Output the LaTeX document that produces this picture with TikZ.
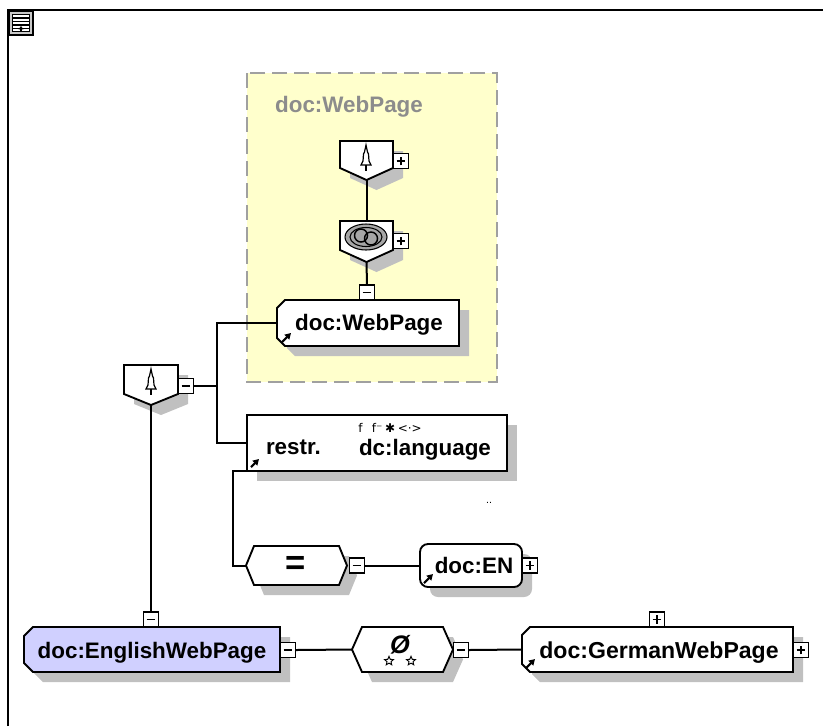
\documentclass[tikz,border=0pt]{standalone}
\usepackage{fontspec}
\setmainfont{Liberation Sans}
\newfontfamily\dejavu{DejaVu Sans}
\usetikzlibrary{fit,calc,arrows.meta,shapes.geometric}
\definecolor{yel}{RGB}{255,255,204}
\definecolor{dashgray}{RGB}{160,160,160}
\definecolor{shd}{RGB}{192,192,192}
\definecolor{lav}{RGB}{208,208,255}
\definecolor{lblgray}{RGB}{140,140,140}
\definecolor{icongray}{RGB}{200,200,200}
\pgfdeclarelayer{back}\pgfdeclarelayer{shapes}\pgfsetlayers{back,shapes,main}
\newcommand\CutPath[3]{([shift={(#3+#2,#3)}]#1.north west) -- ([shift={(#3,#3)}]#1.north east) -- ([shift={(#3,#3)}]#1.south east) -- ([shift={(#3+#2,#3)}]#1.south west) -- ([shift={(#3,#3-#2)}]#1.south west) -- ([shift={(#3,#3+#2)}]#1.north west) -- cycle}
\newcommand\HexPath[3]{([shift={(#3,#3)}]#1.west) -- ([shift={(#3+#2,#3)}]#1.north west) -- ([shift={(#3-#2,#3)}]#1.north east) -- ([shift={(#3,#3)}]#1.east) -- ([shift={(#3-#2,#3)}]#1.south east) -- ([shift={(#3+#2,#3)}]#1.south west) -- cycle}
\newcommand\PentPath[3]{([shift={(#3,#3)}]#1.north west) -- ([shift={(#3,#3)}]#1.north east) -- ([shift={(#3,#3-#2)}]#1.south east) -- ([shift={(#3,#3)}]#1.south) -- ([shift={(#3,#3-#2)}]#1.south west) -- cycle}
\tikzset{
 txt/.style={font=\bfseries\fontsize{16.8}{18}\selectfont, inner sep=0, outer sep=0},
 region/.style={inner sep=0, outer sep=0},
 outl/.style={draw=black, line width=1.4pt, line join=miter},
 conn/.style={draw=black, line width=1.5pt},
 pmbase/.style={draw=black, fill=white, line width=1.1pt, minimum size=11.25pt, inner sep=0, outer sep=0},
 minusbox/.style={pmbase, path picture={\draw[line width=1.1pt] ([xshift=2.4pt]path picture bounding box.west) -- ([xshift=-2.4pt]path picture bounding box.east);}},
 plusbox/.style={pmbase, path picture={\draw[line width=1.1pt] ([xshift=2.4pt]path picture bounding box.west) -- ([xshift=-2.4pt]path picture bounding box.east); \draw[line width=1.1pt] ([yshift=2.4pt]path picture bounding box.south) -- ([yshift=-2.4pt]path picture bounding box.north);}},
 linkarrow/.style={line width=1.6pt, -{Triangle[length=4.5pt,width=5pt]}},
 tree/.pic={\draw[line width=0.9pt, fill=white, line join=miter] (0,0) -- (-1.5,7) -- (-2.5,9) -- (-3,16) -- (-5,20) -- (5,20) -- (3,16) -- (2.5,9) -- (1.5,7) -- cycle; \draw[line width=1pt] (0,20) -- (0,26);},
 allsym/.pic={\draw[line width=0.8pt, fill=black!35] (0,0) ellipse [x radius=21, y radius=13]; \draw[line width=0.8pt] (0,0) ellipse [x radius=16, y radius=9.5]; \draw[line width=1.1pt] (-5,-1.5) circle [radius=6.5]; \draw[line width=1.1pt] (5,1.5) circle [radius=6.5];},
 keystar/.style={star, star points=5, star point ratio=2.2, draw, line width=0.7pt, fill=white, minimum size=7pt, inner sep=0},
}
\begin{document}
\begin{tikzpicture}[x=0.75pt,y=-0.75pt]
\useasboundingbox (0,0) rectangle (823,726);
\begin{pgfonlayer}{back}
\fill[white] (0,0) rectangle (823,726);
\filldraw[fill=yel, draw=dashgray, line width=1.5pt, dash pattern=on 11.25pt off 5.25pt] (247,73) rectangle (497,382);
\end{pgfonlayer}
% frame and corner icon
\draw[line width=1.9pt] (8,726) -- (8,10) -- (823,10);
\filldraw[fill=icongray, draw=black, line width=1pt] (9,11) rectangle (33,35);
\filldraw[fill=white, draw=black, line width=0.8pt] (12.5,14.5) rectangle (29.5,31.5);
\foreach \yy in {18,21.5,25} \draw[line width=0.8pt] (12.5,\yy) -- (29.5,\yy);
\draw[line width=0.8pt] (12.5,28.5) -- (29.5,28.5);
\draw[line width=1.1pt, -{Triangle[length=2.5pt,width=3.5pt]}] (21,32) -- (21,26);
% region nodes
\node[txt, text=lblgray] (grp) at (349,107) {doc:WebPage};
\node[region, fit={(340,141) (393,180)}] (seqA) {};
\node[region, fit={(340,221) (393,262)}] (allA) {};
\node[region, fit={(277,300) (459,346)}] (wp) {};
\node[region, fit={(124,365) (178,405)}] (seqB) {};
\node[region, fit={(247,415) (507,471)}] (restr) {};
\node[region, fit={(246,546) (347,585)}] (eq) {};
\node[region, fit={(420,544) (522,587)}] (en) {};
\node[region, fit={(24,627) (280,672)}] (eng) {};
\node[region, fit={(352,627) (453,672)}] (key) {};
\node[region, fit={(522,627) (793,672)}] (ger) {};
% shapes
\begin{pgfonlayer}{shapes}
\fill[shd] \PentPath{seqA}{12}{10};
\fill[shd] \PentPath{allA}{12}{10};
\fill[shd] \PentPath{seqB}{11}{10};
\fill[shd] \CutPath{wp}{8}{10};
\fill[shd] ([shift={(10,10)}]restr.north west) rectangle ([shift={(10,10)}]restr.south east);
\fill[shd] \HexPath{eq}{8}{10};
\fill[shd, rounded corners=6pt] ([shift={(10,10)}]en.north west) rectangle ([shift={(10,10)}]en.south east);
\fill[shd] \CutPath{eng}{9}{10};
\fill[shd] \HexPath{key}{10}{10};
\fill[shd] \CutPath{ger}{8}{10};
\filldraw[fill=white, outl] \PentPath{seqA}{12}{0};
\filldraw[fill=white, outl] \PentPath{allA}{12}{0};
\filldraw[fill=white, outl] \PentPath{seqB}{11}{0};
\filldraw[fill=white, outl] \CutPath{wp}{8}{0};
\filldraw[fill=white, outl] (restr.north west) rectangle (restr.south east);
\filldraw[fill=white, outl] \HexPath{eq}{8}{0};
\filldraw[fill=white, outl, rounded corners=6pt] (en.north west) rectangle (en.south east);
\filldraw[fill=lav, outl] \CutPath{eng}{9}{0};
\filldraw[fill=white, outl] \HexPath{key}{10}{0};
\filldraw[fill=white, outl] \CutPath{ger}{8}{0};
\end{pgfonlayer}
% texts
\node[txt, anchor=base] (wpT) at (369,330) {doc:WebPage};
\node[txt, anchor=base west] (rlab) at (266,454) {restr.};
\node[txt, anchor=base west] (lang) at (359,455) {dc:language};
\node[font=\dejavu\fontsize{9}{10}\selectfont, anchor=base west, inner sep=0] (facets) at (358,432) {f\hspace{7pt}f⁻\hspace{2pt}✱\hspace{2pt}<·>};
\node[font=\fontsize{8}{8}\selectfont, inner sep=0] (dots) at (489,503) {..};
\node[txt, font=\bfseries\fontsize{26}{28}\selectfont] (eqT) at (296,565) {=};
\node[txt, anchor=base] (enT) at (474,573) {doc:EN};
\node[txt, anchor=base] (engT) at (152,658) {doc:EnglishWebPage};
\node[txt, anchor=base, font=\bfseries\fontsize{17.3}{18}\selectfont] (gerT) at (659,658) {doc:GermanWebPage};
\node[font=\bfseries\itshape\fontsize{19}{20}\selectfont, inner sep=0] (keysym) at (400,645) {Ø};
\node[keystar] (st1) at (389,661) {};
\node[keystar] (st2) at (411,661) {};
\pic at (366,145) {tree};
\pic at (151,369) {tree};
\pic at (366,237) {allsym};
% link arrows
\draw[linkarrow] ([shift={(5,-4)}]wp.south west) -- ++(9,-9);
\draw[linkarrow] ([shift={(4,-4)}]restr.south west) -- ++(8,-8);
\draw[linkarrow] ([shift={(4,-4)}]en.south west) -- ++(9,-9);
\draw[linkarrow] ([shift={(4,-4)}]ger.south west) -- ++(9,-9);
% plus / minus boxes
\node[plusbox] (pA) at (401,161) {};
\node[plusbox] (pB) at (401,241) {};
\node[minusbox] (mA) at (367,292.5) {};
\node[minusbox] (mB) at (186,386) {};
\node[minusbox] (mC) at (151,619.5) {};
\node[minusbox] (mD) at (288,650) {};
\node[minusbox] (mE) at (461,650) {};
\node[plusbox] (pC) at (657,619.5) {};
\node[plusbox] (pD) at (801,650) {};
\node[minusbox] (mF) at (357,565.5) {};
\node[plusbox] (pE) at (530,565.5) {};
% connectors
\coordinate (bus) at (217,443);
\draw[conn] (seqA.south) -- (allA.north);
\draw[conn] (allA.south) -- (mA.north);
\draw[conn] (wp.west) -| (bus) -- (restr.west);
\draw[conn] (mB.east) -- (mB.east -| bus);
\draw[conn] (seqB.south) -- (mC.north);
\draw[conn] (restr.south west) -- ++(-14,0) |- (eq.west);
\draw[conn] (mF.east) -- (en.west);
\draw[conn] (mD.east) -- (key.west);
\draw[conn] (mE.east) -- (ger.west);
\end{tikzpicture}
\end{document}
